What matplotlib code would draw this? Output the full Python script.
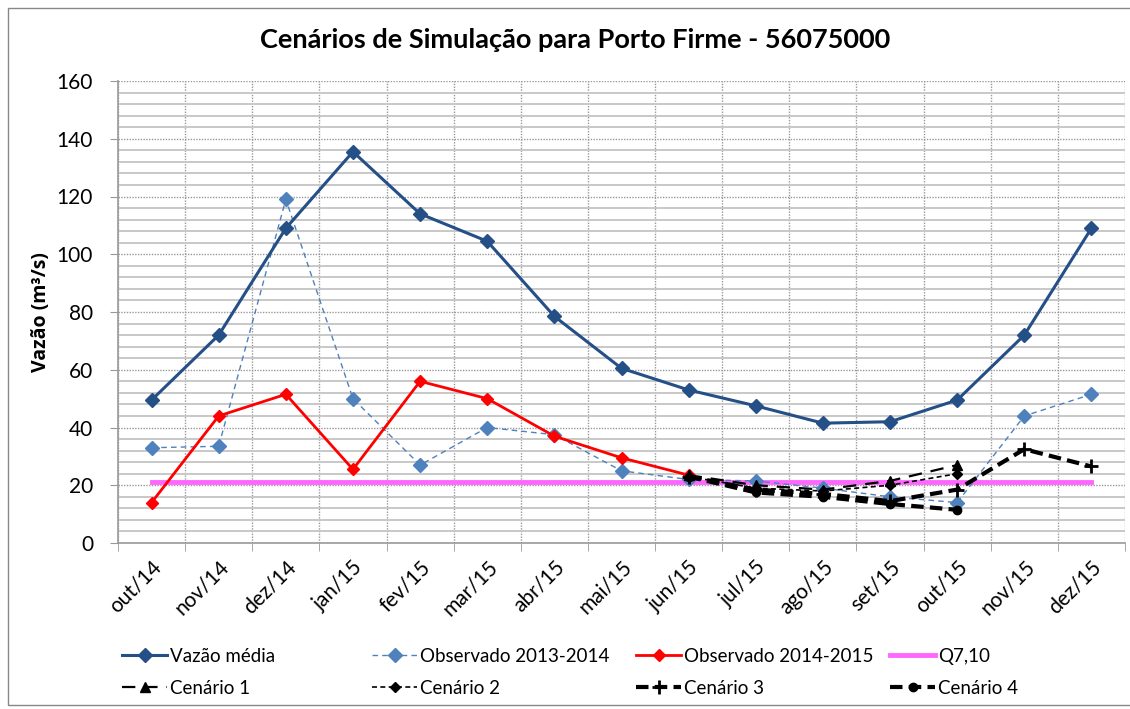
import numpy as np
import matplotlib
matplotlib.use("Agg")
import matplotlib.pyplot as plt
from matplotlib.patches import Rectangle
from matplotlib.ticker import MultipleLocator, FixedLocator

plt.rcParams['font.family'] = ['Lato', 'DejaVu Sans']

months = ["out/14", "nov/14", "dez/14", "jan/15", "fev/15", "mar/15", "abr/15",
          "mai/15", "jun/15", "jul/15", "ago/15", "set/15", "out/15", "nov/15", "dez/15"]
nan = np.nan
vazao_media = [49.5, 72, 109, 135.5, 114, 104.5, 78.5, 60.5, 53, 47.5, 41.5, 42, 49.5, 72, 109]
obs_2013_2014 = [33, 33.5, 119, 50, 27, 40, 37.5, 25, 22, 21.5, 19, 16, 14, 44, 51.5]
obs_2014_2015 = [14, 44, 51.5, 25.5, 56, 50, 37, 29.5, 23.5, nan, nan, nan, nan, nan, nan]
q710 = [21] * 15
cenario1 = [nan] * 8 + [23.5, 20, 18.5, 21.5, 27, nan, nan]
cenario2 = [nan] * 8 + [23, 19, 18, 20, 24, nan, nan]
cenario3 = [nan] * 8 + [23, 18.5, 17, 14.5, 18.5, 32.5, 26.5]
cenario4 = [nan] * 8 + [23, 17.5, 16, 13.5, 11.5, nan, nan]

W, H = 1130, 709
fig = plt.figure(figsize=(W / 100, H / 100), dpi=100)
ax = fig.add_axes([118 / W, 1 - 543 / H, (1125 - 118) / W, (543 - 81) / H])

x = np.arange(len(months))
l_vm, = ax.plot(x, vazao_media, color="#254F87", lw=2.2, marker="D", ms=7, zorder=5)
l_o13, = ax.plot(x, obs_2013_2014, color="#4F81BD", lw=1, ls=(0, (4, 3)), marker="D", ms=7, zorder=4)
l_o14, = ax.plot(x, obs_2014_2015, color="#FF0000", lw=2, marker="D", ms=6, zorder=5)
l_q, = ax.plot(x, q710, color="#FF66FF", lw=3.5, zorder=3)
l_c1, = ax.plot(x, cenario1, color="black", lw=1.6, ls=(0, (6, 4)), marker="^", ms=7, zorder=6)
l_c2, = ax.plot(x, cenario2, color="black", lw=1.2, ls=(0, (3, 2)), marker="D", ms=5, zorder=6)
l_c3, = ax.plot(x, cenario3, color="black", lw=3, ls=(0, (3, 1.5)), marker="+", ms=10, mew=2, zorder=6)
l_c4, = ax.plot(x, cenario4, color="black", lw=3, ls=(0, (3, 1.5)), marker="o", ms=6, zorder=6)

ax.set_xlim(-0.5, len(months) - 0.5)
ax.set_ylim(0, 160)
ax.yaxis.set_major_locator(MultipleLocator(20))
ax.yaxis.set_minor_locator(MultipleLocator(4))
ax.xaxis.set_major_locator(FixedLocator(x))
ax.xaxis.set_minor_locator(FixedLocator(np.arange(-0.5, len(months), 1.0)))
ax.set_xticklabels(months, rotation=45, ha="right", va="top", rotation_mode="anchor", fontsize=15)
ax.tick_params(axis="x", which="major", length=0, pad=10)
ax.tick_params(axis="x", which="minor", length=6, color="#999999", direction="out")
ax.tick_params(axis="y", which="major", length=6, color="#999999", labelsize=15, pad=12)
ax.tick_params(axis="y", which="minor", length=0)

ax.grid(axis="y", which="major", color="#999999", ls=(0, (1, 1)), lw=1)
ax.grid(axis="y", which="minor", color="#C8C8C8", ls="-", lw=1.4)
ax.grid(axis="x", which="minor", color="#999999", ls=(0, (1, 1)), lw=1)
ax.grid(axis="x", which="major", visible=False)
ax.set_axisbelow(True)

for s in ["top", "right"]:
    ax.spines[s].set_visible(False)
for s in ["left", "bottom"]:
    ax.spines[s].set_color("#999999")
    ax.spines[s].set_linewidth(1.2)

ax.set_ylabel("Vazão (m³/s)", fontsize=14, fontweight="bold", labelpad=4,
              family=["Open Sans", "DejaVu Sans"])
fig.text(575 / W, 1 - 40 / H, "Cenários de Simulação para Porto Firme - 56075000",
         ha="center", va="center", fontsize=19.5, fontweight="bold")

fig.patches.append(Rectangle((8 / W, 4 / H), 1.1, 1 - 12 / H, transform=fig.transFigure,
                             fill=False, edgecolor="#888888", lw=1))

cols = [((l_vm, "Vazão média"), (l_c1, "Cenário 1"), 122),
        ((l_o13, "Observado 2013-2014"), (l_c2, "Cenário 2"), 372),
        ((l_o14, "Observado 2014-2015"), (l_c3, "Cenário 3"), 636),
        ((l_q, "Q7,10"), (l_c4, "Cenário 4"), 890)]
for a, b, xp in cols:
    leg = fig.legend([a[0], b[0]], [a[1], b[1]], loc="upper left",
                     bbox_to_anchor=(xp / W, 1 - 648 / H), frameon=False,
                     fontsize=13.5, handlelength=2.4, handletextpad=0.15,
                     labelspacing=0.8, borderaxespad=0, borderpad=0)

fig.savefig("out.png", dpi=100)
